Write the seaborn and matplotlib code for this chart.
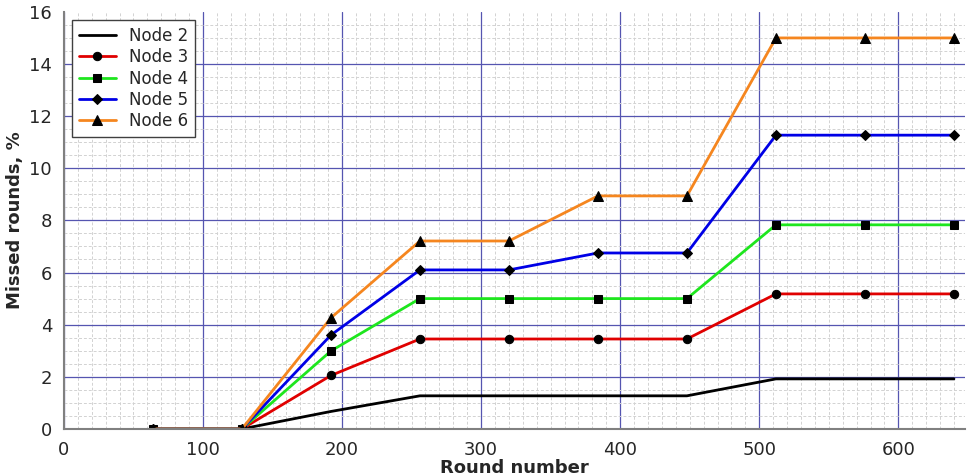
import matplotlib
matplotlib.use('Agg')
import matplotlib.pyplot as plt
from matplotlib.ticker import MultipleLocator
import seaborn as sns
import pandas as pd

rounds = [64, 128, 192, 256, 320, 384, 448, 512, 576, 640]
node2 = [0, 0, 0.67, 1.27, 1.27, 1.27, 1.27, 1.92, 1.92, 1.92]
node3 = [0, 0, 2.05, 3.45, 3.45, 3.45, 3.45, 5.18, 5.18, 5.18]
node4 = [0, 0, 2.99, 5.0, 5.0, 5.0, 5.0, 7.83, 7.83, 7.83]
node5 = [0, 0, 3.6, 6.1, 6.1, 6.75, 6.75, 11.27, 11.27, 11.27]
node6 = [0, 0, 4.26, 7.21, 7.21, 8.94, 8.94, 15.0, 15.0, 15.0]

names = ['Node 2', 'Node 3', 'Node 4', 'Node 5', 'Node 6']
series = [node2, node3, node4, node5, node6]
colors = ['#000000', '#e00000', '#1ee61e', '#0000e6', '#f5861f']
markers = [None, 'o', 's', 'D', '^']
msizes = [0, 6, 5.5, 5.5, 7.5]

sns.set_style('white')
plt.rcParams['font.family'] = ['DejaVu Sans']

fig = plt.figure(figsize=(9.68, 4.75), dpi=100)
ax = fig.add_axes([0.066, 0.097, 0.931, 0.878])

for name, vals, c, m, ms in zip(names, series, colors, markers, msizes):
    df = pd.DataFrame({'round': rounds, 'missed': vals})
    sns.lineplot(data=df, x='round', y='missed', ax=ax, color=c, linewidth=2,
                 marker=m, markersize=ms, markerfacecolor='black',
                 markeredgecolor='black', label=name)

ax.set_xlim(0, 648)
ax.set_ylim(0, 16)
ax.xaxis.set_major_locator(MultipleLocator(100))
ax.xaxis.set_minor_locator(MultipleLocator(10))
ax.yaxis.set_major_locator(MultipleLocator(2))
ax.yaxis.set_minor_locator(MultipleLocator(0.5))

ax.grid(which='minor', color='#d2d2d2', linestyle=(0, (3, 2)), linewidth=0.7)
ax.grid(which='major', color='#5555b0', linestyle='-', linewidth=0.9)
ax.set_axisbelow(True)

for s in ['top', 'right']:
    ax.spines[s].set_visible(False)
for s in ['left', 'bottom']:
    ax.spines[s].set_color('#808080')
    ax.spines[s].set_linewidth(1.5)

ax.tick_params(which='major', direction='out', length=5, width=1, color='#808080', labelsize=13)
ax.tick_params(which='minor', direction='out', length=3, width=0.8, color='#808080')

ax.set_xlabel('Round number', fontsize=13, fontweight='bold', labelpad=0)
ax.set_ylabel('Missed rounds, %', fontsize=13, fontweight='bold')

leg = ax.legend(loc='upper left', fontsize=12, fancybox=False, framealpha=1,
                edgecolor='#404040', handlelength=2.2, borderpad=0.4,
                labelspacing=0.2)
leg.get_frame().set_linewidth(1)

# no grid line on the top edge
fig.canvas.draw()
for t in ax.yaxis.get_major_ticks() + ax.yaxis.get_minor_ticks():
    if abs(t.get_loc() - 16) < 1e-6:
        t.gridline.set_visible(False)

fig.savefig('out.png', dpi=100)
